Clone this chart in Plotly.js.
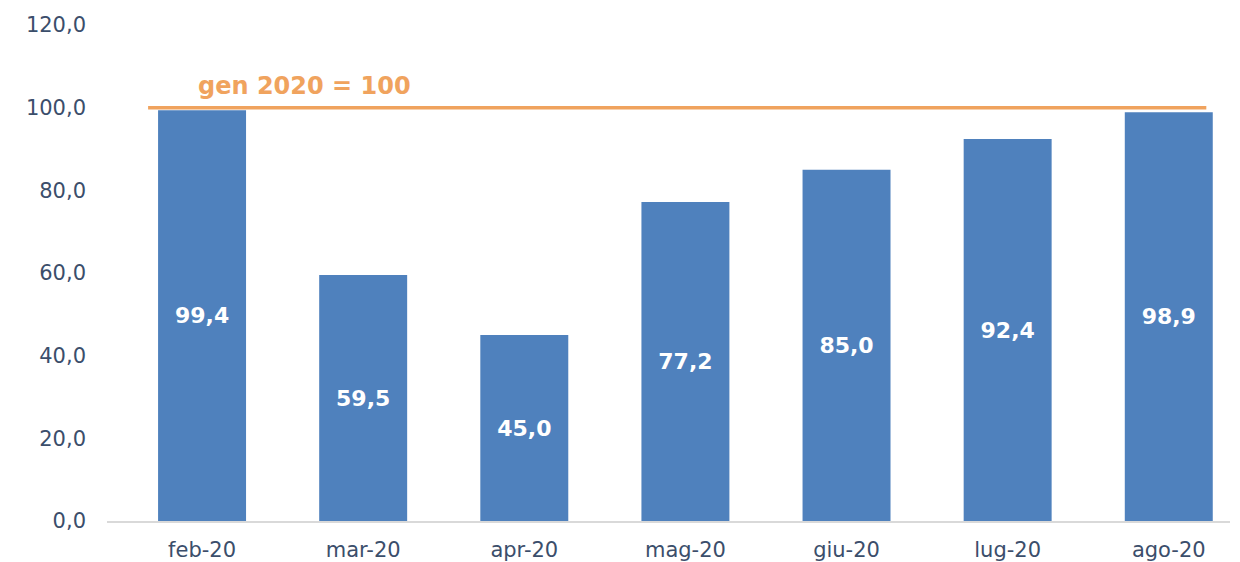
<!DOCTYPE html>
<html><head><meta charset="utf-8">
<script src="https://cdn.plot.ly/plotly-3.0.1.min.js"></script>
<style>html,body{margin:0;padding:0;background:#fff}#chart{width:1240px;height:562px}</style>
</head><body><div id="chart"></div>
<script>
const categories = ["feb-20","mar-20","apr-20","mag-20","giu-20","lug-20","ago-20"];
const values = [99.4, 59.5, 45.0, 77.2, 85.0, 92.4, 98.9];
const baseValue = 100;
const baseLabel = "gen 2020 = 100";
const yTicks = [0, 20, 40, 60, 80, 100, 120];

const trace = {
  type: "bar",
  x: categories,
  y: values,
  marker: {color: "#4F81BD"},
  text: values.map(v => v.toFixed(1).replace(".", ",")),
  textposition: "inside",
  insidetextanchor: "middle",
  textangle: 0,
  textfont: {family: "DejaVu Sans", size: 22, color: "#FFFFFF", weight: "bold"},
  hoverinfo: "none"
};

const layout = {
  width: 1240, height: 562,
  margin: {l: 107, r: 10, t: 25, b: 41},
  paper_bgcolor: "#FFFFFF", plot_bgcolor: "#FFFFFF",
  separators: ",.",
  bargap: 0.454,
  showlegend: false,
  xaxis: {
    type: "category",
    range: [-0.59, 6.38],
    showgrid: false,
    showline: true, linecolor: "#D9D9D9", linewidth: 1.5,
    ticks: "",
    tickfont: {family: "DejaVu Sans", size: 21, color: "#3B4E6B"},
    ticklabelstandoff: 9,
    fixedrange: true
  },
  yaxis: {
    range: [0, 120],
    tickvals: yTicks,
    ticktext: yTicks.map(v => v.toFixed(1).replace(".", ",")),
    showgrid: false, zeroline: false, showline: false,
    ticks: "",
    tickfont: {family: "DejaVu Sans", size: 21, color: "#3B4E6B"},
    ticklabelstandoff: 20,
    fixedrange: true
  },
  shapes: [{
    type: "line", xref: "x", yref: "y",
    x0: -0.335, x1: 6.233, y0: baseValue, y1: baseValue,
    line: {color: "#F0A35E", width: 3.5}
  }],
  annotations: [{
    xref: "x", yref: "y",
    x: 0.633, y: baseValue, yshift: 22,
    text: "<b>" + baseLabel + "</b>",
    showarrow: false,
    font: {family: "DejaVu Sans", size: 24, color: "#F0A35E"}
  }]
};

Plotly.newPlot("chart", [trace], layout, {displayModeBar: false, staticPlot: true});
</script></body></html>
